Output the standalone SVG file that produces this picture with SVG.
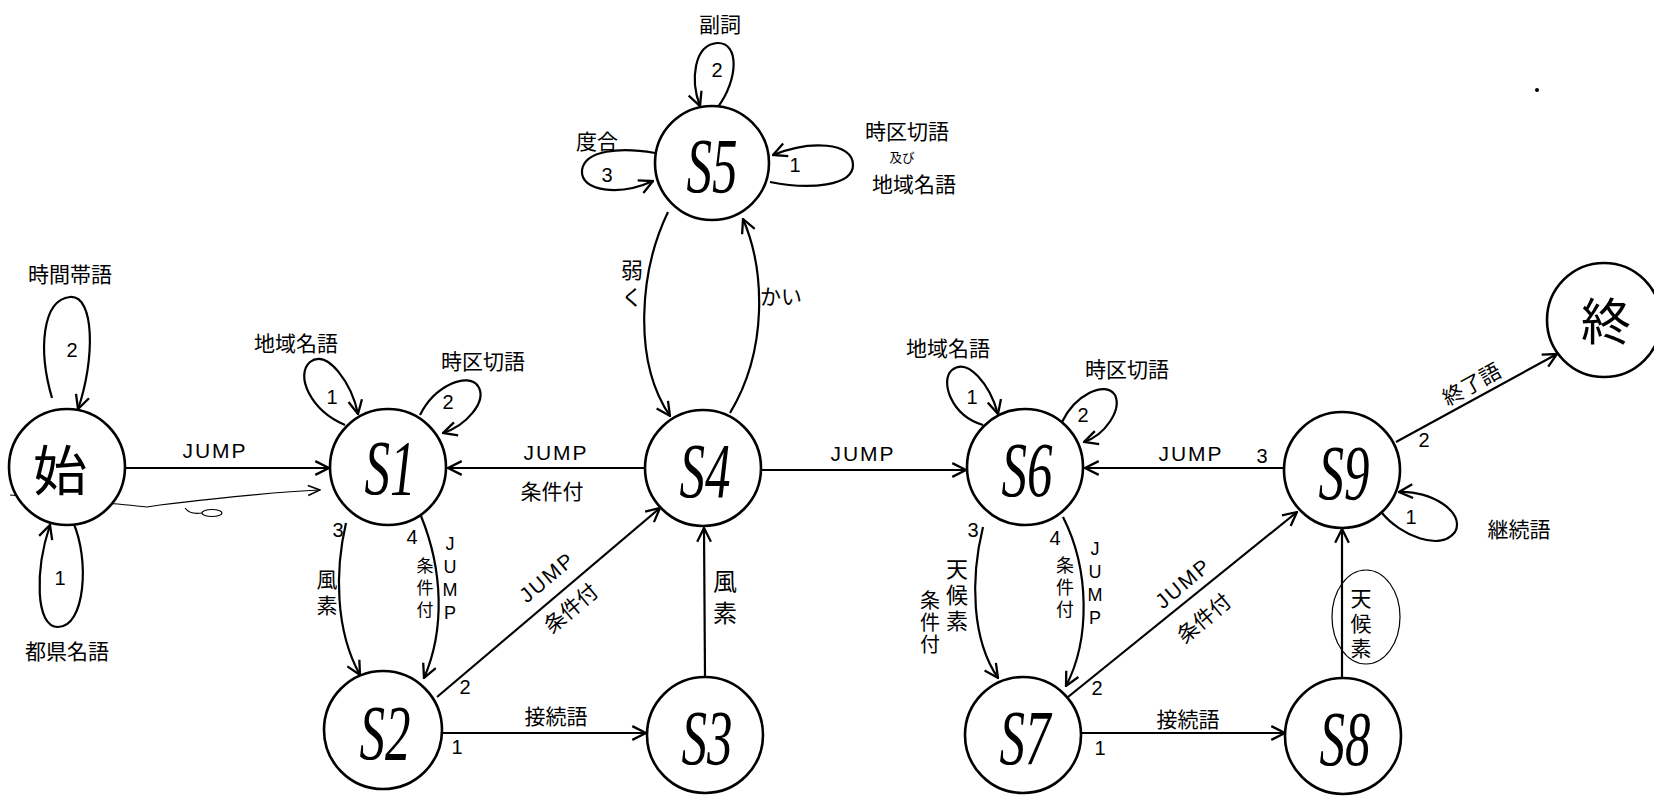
<svg xmlns="http://www.w3.org/2000/svg" width="1654" height="796" viewBox="0 0 1654 796">
<style>
.nc{fill:#fff;stroke:#000;stroke-width:2.6}
.e{fill:none;stroke:#000;stroke-width:2.2;marker-end:url(#arr)}
.sk{fill:none;stroke:#000;stroke-width:1.2}
.st{font-family:"Liberation Serif",serif;font-style:italic;font-size:60px;text-anchor:middle;dominant-baseline:central;fill:#000}
.kj{font-family:"Noto Sans CJK JP",sans-serif;text-anchor:middle;dominant-baseline:central;fill:#000}
.l{font-family:"Noto Sans CJK JP",sans-serif;font-size:21px;text-anchor:middle;dominant-baseline:central;fill:#000}
.v{font-family:"Noto Sans CJK JP",sans-serif;writing-mode:vertical-rl;text-orientation:upright;text-anchor:middle;dominant-baseline:central;fill:#000}
.vj{font-family:"Liberation Sans",sans-serif;writing-mode:vertical-rl;text-orientation:upright;font-size:18px;text-anchor:middle;dominant-baseline:central;fill:#000}
.n{font-family:"Liberation Sans",sans-serif;font-size:20px;text-anchor:middle;dominant-baseline:central;fill:#000}
.j{font-family:"Liberation Sans",sans-serif;font-size:21px;letter-spacing:2px;text-anchor:middle;dominant-baseline:central;fill:#000}
</style>
<defs>
<marker id="arr" viewBox="0 0 14 14" refX="13" refY="7" markerWidth="16" markerHeight="16" markerUnits="userSpaceOnUse" orient="auto">
<path d="M1,1 L13,7 L1,13" fill="none" stroke="#000" stroke-width="2"/>
</marker>
<marker id="arrs" viewBox="0 0 14 14" refX="13" refY="7" markerWidth="14" markerHeight="14" markerUnits="userSpaceOnUse" orient="auto">
<path d="M1,2 L13,7 L1,12" fill="none" stroke="#000" stroke-width="1.5"/>
</marker>
</defs>
<rect width="1654" height="796" fill="#fff"/>

<g id="connectors">
<path class="e" d="M125,468 L329,468"/>
<path class="sk" d="M10,495 C60,499 110,503 147,507 L160,505 C210,499 270,492 320,490" marker-end="url(#arrs)"/>
<path class="sk" d="M185,508 Q190,515 202,513"/>
<ellipse class="sk" cx="212" cy="513" rx="10" ry="3.5"/>
<path class="e" d="M645,468 L448,468"/>
<path class="e" d="M442,733 L646,733"/>
<path class="e" d="M705,677 L704,528"/>
<path class="e" d="M437,697 L660,508"/>
<path class="e" d="M762,470 L966,470"/>
<path class="e" d="M1284,468 L1085,468"/>
<path class="e" d="M1081,733 L1285,733"/>
<path class="e" d="M1342,678 L1342,529"/>
<path class="e" d="M1068,697 L1297,512"/>
<path class="e" d="M1396,442 L1557,354"/>
<path class="e" d="M668,212 C640,270 632,360 670,416"/>
<path class="e" d="M730,413 C768,350 765,270 743,219"/>
<path class="e" d="M346,523 C335,570 335,630 360,675"/>
<path class="e" d="M421,516 C443,570 445,630 424,678"/>
<path class="e" d="M983,527 C970,580 972,640 998,678"/>
<path class="e" d="M1063,517 C1090,570 1090,640 1066,686"/>
<path class="e" d="M52,398 C38,350 42,300 70,297 C95,295 95,360 78,409"/>
<path class="e" d="M73,522 C90,560 85,627 58,627 C35,627 35,570 50,525"/>
<path class="e" d="M345,425 C310,410 295,375 310,362 C328,348 352,385 358,414"/>
<path class="e" d="M420,415 C435,385 468,372 478,386 C488,402 465,426 443,433"/>
<path class="e" d="M718,107 C738,80 740,42 717,43 C694,45 690,80 700,106"/>
<path class="e" d="M655,153 C620,147 585,150 582,170 C580,192 620,196 653,181"/>
<path class="e" d="M770,182 C810,190 853,186 853,165 C853,142 810,140 773,155"/>
<path class="e" d="M983,425 C950,415 940,380 952,370 C968,357 990,385 998,414"/>
<path class="e" d="M1062,422 C1075,395 1105,380 1115,395 C1122,410 1105,435 1084,442"/>
<path class="e" d="M1382,513 C1400,535 1440,552 1455,532 C1466,512 1430,490 1399,492"/>
<ellipse class="sk" cx="1366" cy="617" rx="34" ry="47"/>
</g>

<g id="start"><circle class="nc" cx="67" cy="467" r="58"/><text class="kj" x="60" y="467" font-size="54">始</text></g>
<g id="s1"><circle class="nc" cx="388" cy="467" r="58"/><text class="st" transform="translate(390,467) scale(0.85,1.3)">S1</text></g>
<g id="s2"><circle class="nc" cx="383" cy="730" r="59"/><text class="st" transform="translate(385,732) scale(0.85,1.3)">S2</text></g>
<g id="s3"><circle class="nc" cx="705" cy="735" r="58"/><text class="st" transform="translate(707,737) scale(0.85,1.3)">S3</text></g>
<g id="s4"><circle class="nc" cx="703" cy="468" r="58"/><text class="st" transform="translate(705,470) scale(0.85,1.3)">S4</text></g>
<g id="s5"><circle class="nc" cx="712" cy="163" r="57"/><text class="st" transform="translate(712,165) scale(0.85,1.3)">S5</text></g>
<g id="s6"><circle class="nc" cx="1025" cy="467" r="58"/><text class="st" transform="translate(1027,469) scale(0.85,1.3)">S6</text></g>
<g id="s7"><circle class="nc" cx="1023" cy="735" r="58"/><text class="st" transform="translate(1025,737) scale(0.85,1.3)">S7</text></g>
<g id="s8"><circle class="nc" cx="1343" cy="736" r="58"/><text class="st" transform="translate(1345,738) scale(0.85,1.3)">S8</text></g>
<g id="s9"><circle class="nc" cx="1342" cy="470" r="58"/><text class="st" transform="translate(1344,472) scale(0.85,1.3)">S9</text></g>
<g id="end"><circle class="nc" cx="1604" cy="320" r="57"/><text class="kj" x="1606" y="318" font-size="50">終</text></g>

<g id="labels">
<text class="l" x="70" y="273">時間帯語</text>
<text class="n" x="72" y="350">2</text>
<text class="n" x="60" y="578">1</text>
<text class="l" x="67" y="650" font-size="23">都県名語</text>
<text class="j" x="215" y="450">JUMP</text>

<text class="l" x="296" y="342">地域名語</text>
<text class="l" x="483" y="360">時区切語</text>
<text class="n" x="332" y="397">1</text>
<text class="n" x="448" y="402">2</text>
<text class="n" x="338" y="530">3</text>
<text class="n" x="412" y="537">4</text>
<text class="v" x="327" y="595" font-size="21" letter-spacing="5">風素</text>
<text class="v" x="425" y="590" font-size="17" letter-spacing="5">条件付</text>
<text class="vj" x="450" y="580" letter-spacing="3">JUMP</text>
<text class="j" x="556" y="452">JUMP</text>
<text class="l" x="552" y="490" font-size="19">条件付</text>

<text class="n" x="465" y="687">2</text>
<text class="n" x="457" y="747">1</text>
<text class="l" x="556" y="715" font-size="28">接続語</text>
<text class="j" transform="translate(547,577) rotate(-40)" font-size="28">JUMP</text>
<text class="l" transform="translate(570,607) rotate(-40)" font-size="23">条件付</text>

<text class="v" x="725" y="601" font-size="24" letter-spacing="8">風素</text>

<text class="l" x="720" y="23" font-size="22">副詞</text>
<text class="n" x="717" y="70">2</text>
<text class="l" x="597" y="140" font-size="20">度合</text>
<text class="n" x="607" y="175">3</text>
<text class="n" x="795" y="165">1</text>
<text class="l" x="907" y="130" font-size="20">時区切語</text>
<text class="l" transform="translate(902,156) scale(0.6)" font-size="20">及び</text>
<text class="l" x="914" y="183" font-size="22">地域名語</text>
<text class="v" x="632" y="286" font-size="22" letter-spacing="5">弱く</text>
<text class="l" x="781" y="295" font-size="22">かい</text>

<text class="j" x="863" y="453">JUMP</text>

<text class="l" x="948" y="347" font-size="23">地域名語</text>
<text class="l" x="1127" y="368">時区切語</text>
<text class="n" x="972" y="397">1</text>
<text class="n" x="1083" y="415">2</text>
<text class="n" x="973" y="530">3</text>
<text class="n" x="1055" y="538">4</text>
<text class="v" x="957" y="597" font-size="22" letter-spacing="4">天候素</text>
<text class="v" x="930" y="623" font-size="20" letter-spacing="2">条件付</text>
<text class="v" x="1065" y="589" font-size="18" letter-spacing="4">条件付</text>
<text class="vj" x="1095" y="585" letter-spacing="3">JUMP</text>
<text class="j" x="1191" y="453">JUMP</text>
<text class="n" x="1262" y="456">3</text>

<text class="n" x="1097" y="688">2</text>
<text class="n" x="1100" y="748">1</text>
<text class="l" x="1188" y="718" font-size="28">接続語</text>
<text class="j" transform="translate(1183,583) rotate(-40)" font-size="28">JUMP</text>
<text class="l" transform="translate(1203,617) rotate(-40)" font-size="23">条件付</text>

<text class="v" x="1361" y="625" font-size="21" letter-spacing="4">天候素</text>
<text class="n" x="1411" y="517">1</text>
<text class="l" x="1519" y="528" font-size="28">継続語</text>
<text class="n" x="1424" y="440">2</text>
<text class="l" transform="translate(1471,383) rotate(-29)" font-size="29">終了語</text>
</g>
<circle cx="1537" cy="90" r="2" fill="#000"/>
</svg>
